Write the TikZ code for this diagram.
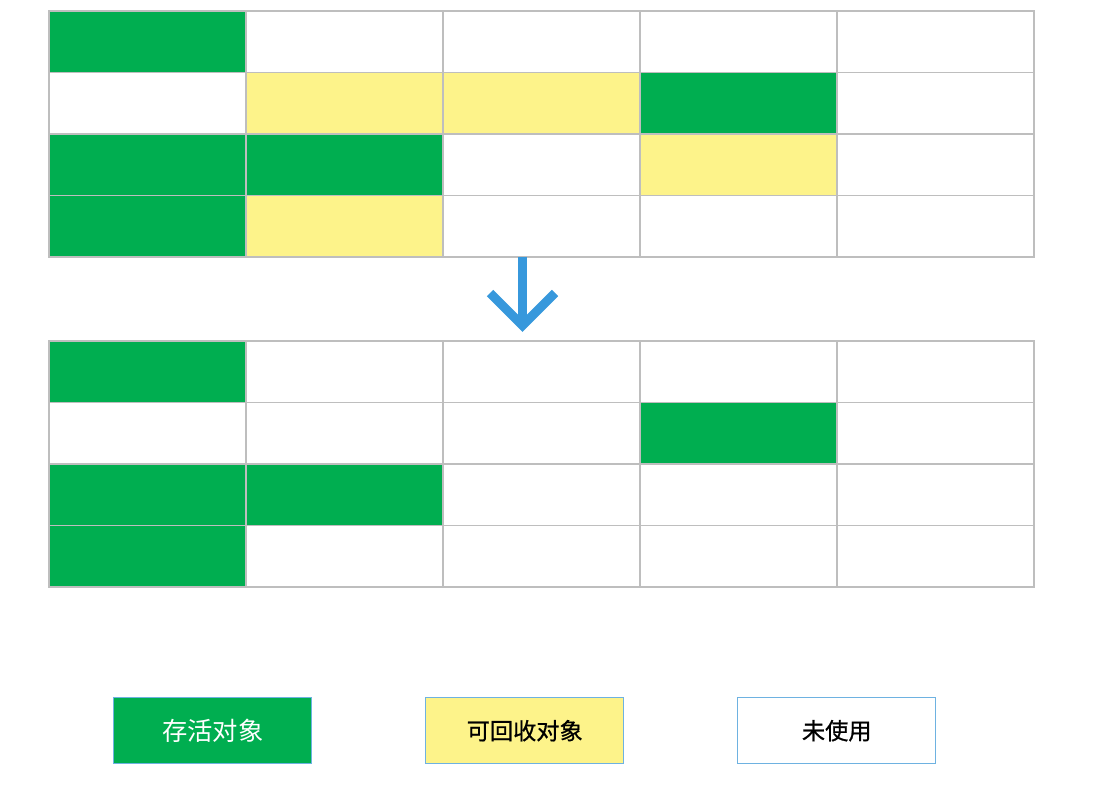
\documentclass[tikz,border=0pt]{standalone}
\usepackage{fontspec}
\newfontfamily\cjk{Noto Sans CJK SC}
\newfontfamily\cjkm[FakeBold=0.8]{Noto Sans CJK SC}
\usetikzlibrary{positioning}

\definecolor{livegreen}{RGB}{0,174,80}
\definecolor{deadyellow}{RGB}{253,243,138}
\definecolor{cellgray}{RGB}{190,190,190}
\definecolor{keyblue}{RGB}{110,178,225}
\definecolor{arrowblue}{RGB}{55,152,220}

\tikzset{
  cell/.style={draw=cellgray, line width=0.8pt, minimum width=4.925cm, minimum height=1.5375cm,
    inner sep=0pt, outer sep=0pt, anchor=north west},
  live/.style={cell, fill=livegreen},
  dead/.style={cell, fill=deadyellow},
  free/.style={cell, fill=white},
  key/.style={draw=keyblue, line width=1pt, minimum width=4.95cm, minimum height=1.65cm,
    inner sep=0pt, anchor=north west, font=\cjkm\fontsize{16.5}{20}\selectfont}
}

\begin{document}
\begin{tikzpicture}[x=0.025cm, y=-0.025cm]
    \useasboundingbox (0,0) rectangle (1112,786);

    % heap before collection
    \foreach \r/\kinds in {0/{live,free,free,free,free},
                           1/{free,dead,dead,live,free},
                           2/{live,live,free,dead,free},
                           3/{live,dead,free,free,free}}{
        \foreach \k [count=\c from 0] in \kinds
            \node[\k] (t\r\c) at (49+197*\c, 11+61.5*\r) {};
    }

    % heap after collection
    \foreach \r/\kinds in {0/{live,free,free,free,free},
                           1/{free,free,free,live,free},
                           2/{live,live,free,free,free},
                           3/{live,free,free,free,free}}{
        \foreach \k [count=\c from 0] in \kinds
            \node[\k] (b\r\c) at (49+197*\c, 341+61.5*\r) {};
    }

    % arrow
    \coordinate (arrtop) at (522.5,257);
    \coordinate (arrtip) at (522.5,325.5);
    \coordinate (arrl) at (490,293);
    \coordinate (arrr) at (555,293);
    \draw[arrowblue, line width=6.4pt] (arrtop) -- (arrtip);
    \draw[arrowblue, line width=6.4pt, miter limit=4] (arrl) -- (arrtip) -- (arrr);

    % legend
    \node[key, fill=livegreen, text=white, font=\cjk\fontsize{18}{22}\selectfont] (klive) at (113,697) {存活对象};
    \node[key, fill=deadyellow] (kdead) at (425,697) {可回收对象};
    \node[key, fill=white] (kfree) at (737,697) {未使用};
\end{tikzpicture}
\end{document}
